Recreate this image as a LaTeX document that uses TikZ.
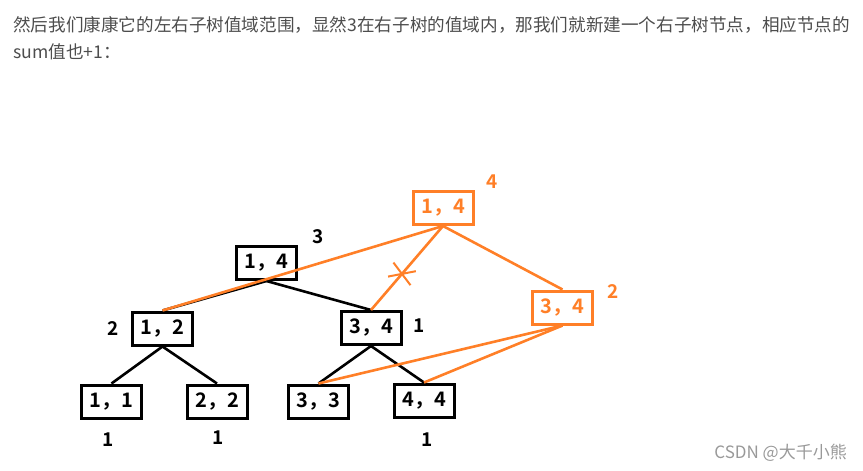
\documentclass[tikz,border=0pt]{standalone}
\usepackage{fontspec}
\newfontfamily\cjk{Noto Sans CJK SC}
\newfontfamily\cjkbold{Noto Sans CJK SC Bold}
\usetikzlibrary{positioning, calc, shapes.misc}
\definecolor{segorange}{RGB}{255,127,39}
\definecolor{textgray}{RGB}{77,77,77}

\begin{document}
\begin{tikzpicture}[
  x=1pt, y=-1pt,
  seg/.style={draw, line width=3pt, minimum width=60pt, minimum height=33pt,
              inner sep=0pt, font=\cjkbold\fontsize{20}{20}\selectfont},
  newseg/.style={seg, draw=segorange, text=segorange},
  cnt/.style={font=\cjkbold\fontsize{19}{19}\selectfont, inner sep=0pt},
  newcnt/.style={cnt, text=segorange},
  edge/.style={line width=2.6pt},
  newedge/.style={line width=2.6pt, segorange},
  para/.style={anchor=base west, inner sep=0pt, text=textgray,
               font=\cjk\fontsize{17.6}{20}\selectfont},
]
\useasboundingbox (0,0) rectangle (863,471);

% ------------------- text above -------------------
\node[para] (line1) at (13,31)
  {然后我们康康它的左右子树值域范围，显然3在右子树的值域内，那我们就新建一个右子树节点，相应节点的};
\node[para] (line2) at (13,58) {sum值也+1：};

% ------------------- old tree -------------------
\node[seg] (root) at (266.5,263) {1，4};
\node[seg] (n12) at (162.5,328.5) {1，2};
\node[seg] (n34) at (371,328) {3，4};
\node[seg] (n11) at (111.5,401.5) {1，1};
\node[seg] (n22) at (217,401.5) {2，2};
\node[seg] (n33) at (318.5,401.5) {3，3};
\node[seg] (n44) at (424,400.5) {4，4};

\draw[edge] (root.south) -- (n12.north);
\draw[edge] (root.south) -- (n34.north);
\draw[edge] (n12.south) -- (n11.north);
\draw[edge] (n12.south) -- (n22.north);
\draw[edge] (n34.south) -- (n33.north);
\draw[edge] (n34.south) -- (n44.north);

% sums of the old tree
\node[cnt] (c_root) at ($(root.north east)+(20,-8)$) {3};
\node[cnt] (c_n12) at ($(n12.west)+(-18,0)$) {2};
\node[cnt] (c_n34) at ($(n34.east)+(17,-2)$) {1};
\node[cnt] (c_n11) at ($(n11.south)+(-3,20)$) {1};
\node[cnt] (c_n22) at ($(n22.south)+(1,18)$) {1};
\node[cnt] (c_n44) at ($(n44.south)+(3,21)$) {1};

% ------------------- new version -------------------
\node[newseg] (o14) at (443,208) {1，4};
\node[newseg] (o34) at (562.5,307.5) {3，4};

\draw[newedge] (o14.south) -- (n12.north);
\draw[newedge] (o14.south) --
  node[pos=0.57, cross out, draw=segorange, line width=2pt, rotate=69,
       minimum width=13pt, minimum height=22pt, inner sep=0pt] (cut) {}
  (n34.north);
\draw[newedge] (o14.south) -- (o34.north);
\draw[newedge] (o34.south) -- (n33.north);
\draw[newedge] (o34.south) -- (n44.north);

\node[newcnt] (c_o14) at ($(o14.north east)+(18,-8)$) {4};
\node[newcnt] (c_o34) at ($(o34.north east)+(19,2)$) {2};

% watermark
\node[anchor=base east, inner sep=0pt, text=black!40,
      font=\cjk\fontsize{17}{17}\selectfont] (mark) at (847,458) {CSDN @大千小熊};

\end{tikzpicture}
\end{document}
